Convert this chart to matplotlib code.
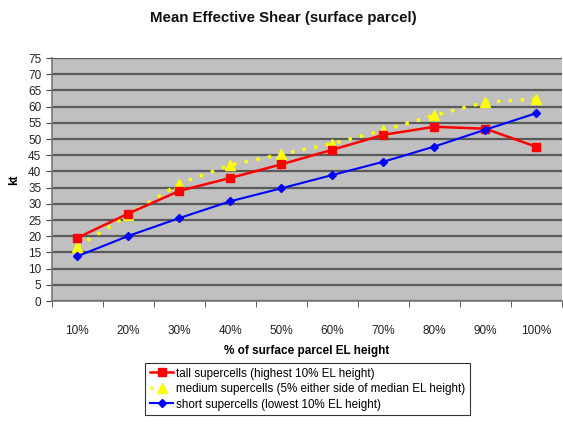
import matplotlib
matplotlib.use("Agg")
from matplotlib import pyplot as plt
from matplotlib.ticker import MultipleLocator, FixedLocator

plt.rcParams['font.family'] = ['Liberation Sans', 'DejaVu Sans']

categories = ["10%", "20%", "30%", "40%", "50%", "60%", "70%", "80%", "90%", "100%"]
tall = [19.5, 27.0, 34.0, 38.0, 42.2, 46.7, 51.3, 53.8, 53.2, 47.6]
medium = [16.8, 26.5, 36.2, 42.0, 45.3, 48.6, 52.7, 57.3, 61.4, 62.4]
short = [13.8, 20.1, 25.6, 30.8, 34.8, 38.9, 43.0, 47.7, 52.9, 58.0]

x = list(range(len(categories)))

fig = plt.figure(figsize=(5.63, 4.24), dpi=100)
ax = fig.add_axes([0.092, 0.290, 0.906, 0.573])
ax.set_facecolor("#c0c0c0")

ax.plot(x, tall, color="#ff0000", lw=1.8, marker="s", ms=6,
        label="tall supercells (highest 10% EL height)", zorder=4)
ax.plot(x, medium, color="#ffff00", lw=2.5, ls=(0, (1, 2.4)), marker="^", ms=6.5,
        label="medium supercells (5% either side of median EL height)", zorder=3)
ax.plot(x, short, color="#0000ff", lw=1.5, marker="D", ms=4.5,
        label="short supercells (lowest 10% EL height)", zorder=5)

ax.set_xlim(-0.5, len(categories) - 0.5)
ax.set_ylim(0, 75)
ax.yaxis.set_major_locator(MultipleLocator(5))
ax.grid(axis="y", color="#5a5a5a", lw=1.6, zorder=1)
ax.set_axisbelow(True)

ax.set_xticks(x)
ax.set_xticklabels(categories)
ax.xaxis.set_minor_locator(FixedLocator([i - 0.5 for i in range(len(categories) + 1)]))
ax.tick_params(axis="x", which="major", length=0, pad=17, labelsize=8.5, labelcolor="#222222")
ax.tick_params(axis="x", which="minor", length=4, color="#444444")
ax.tick_params(axis="y", length=4, labelsize=8.5, labelcolor="#222222", color="#444444")

for s in ["top", "right"]:
    ax.spines[s].set_visible(False)
ax.spines["left"].set_color("#777777")
ax.spines["bottom"].set_color("#777777")
ax.spines["left"].set_linewidth(1.2)
ax.spines["bottom"].set_linewidth(1.2)

ax.set_xlabel("% of surface parcel EL height", fontsize=8.5, fontweight="bold", labelpad=6)
ax.set_ylabel("kt", fontsize=8.5, fontweight="bold", labelpad=6)
fig.text(0.503, 0.958, "Mean Effective Shear (surface parcel)", ha="center", va="center",
         fontsize=10.8, fontweight="bold", color="#111111")

leg = fig.legend(loc="upper left", bbox_to_anchor=(0.248, 0.158), bbox_transform=fig.transFigure,
                 fontsize=8.4, frameon=True, fancybox=False, handlelength=2.0,
                 handletextpad=0.25, borderpad=0.4, labelspacing=0.3)
leg.get_frame().set_edgecolor("#000000")
leg.get_frame().set_linewidth(0.8)

fig.savefig("out.png", dpi=100)
